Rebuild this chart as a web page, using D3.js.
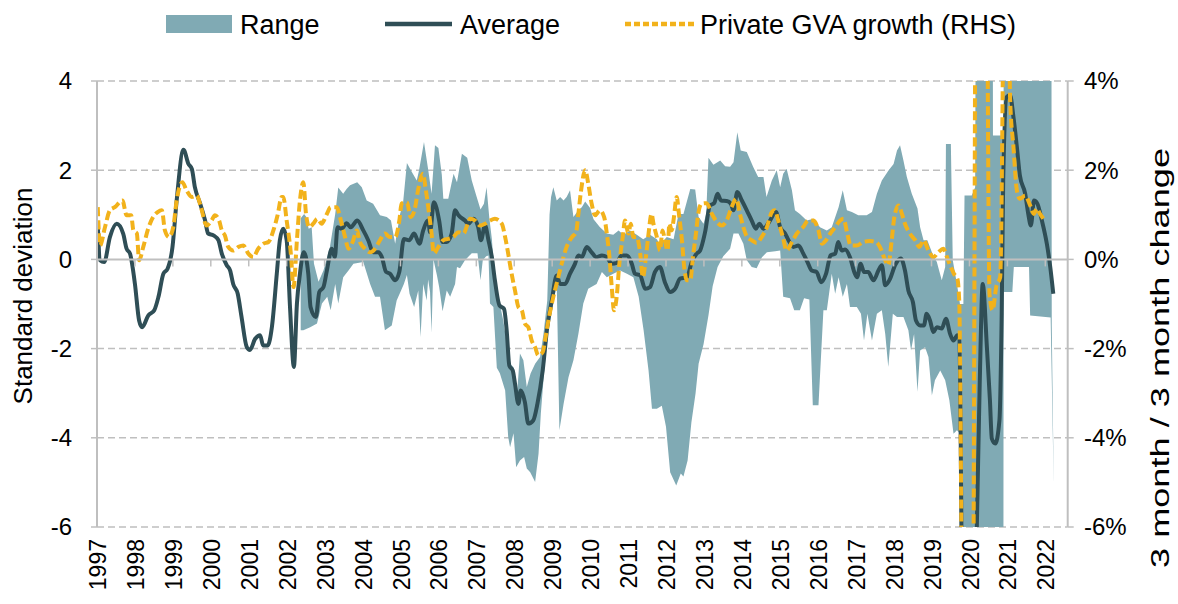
<!DOCTYPE html>
<html lang="en">
<head>
<meta charset="utf-8">
<script src="https://d3js.org/d3.v7.min.js"></script>
<style>
    body { margin: 0; background: #fff; }
    svg { display: block; font-family: "Liberation Sans", Arial, sans-serif; }
</style>
</head>
<body>
<div id="chart"></div>
<script>
    // data: [decimal year, value]
    const years = d3.range(1997, 2023);
    const leftTicks = [4, 2, 0, -2, -4, -6];
    const rightTicks = ["4%", "2%", "0%", "-2%", "-4%", "-6%"];

    const average = [
        [1997.02,0.80],[1997.08,-0.02],[1997.19,-0.06],[1997.34,0.50],[1997.52,0.80],[1997.69,0.58],
        [1997.78,0.24],[1997.87,0.13],[1998.00,-0.55],[1998.11,-1.37],[1998.19,-1.52],[1998.35,-1.26],
        [1998.51,-1.14],[1998.62,-0.84],[1998.75,-0.32],[1998.86,-0.21],[1998.99,0.28],[1999.10,1.32],
        [1999.28,2.46],[1999.41,2.14],[1999.50,2.03],[1999.58,1.62],[1999.72,1.25],[1999.85,0.87],
        [1999.93,0.58],[2000.07,0.54],[2000.20,0.43],[2000.29,0.13],[2000.42,-0.13],[2000.51,-0.25],
        [2000.59,-0.55],[2000.71,-0.77],[2000.81,-1.29],[2000.95,-1.97],[2001.03,-2.03],[2001.17,-1.78],
        [2001.30,-1.70],[2001.38,-1.93],[2001.50,-1.93],[2001.61,-1.52],[2001.74,-0.32],[2001.82,0.43],
        [2001.91,0.69],[2002.00,0.43],[2002.09,-1.10],[2002.19,-2.41],[2002.27,-1.00],[2002.35,-0.32],
        [2002.45,0.16],[2002.57,-0.32],[2002.63,-1.07],[2002.77,-1.29],[2002.86,-0.73],[2002.97,-0.62],
        [2003.06,-0.25],[2003.19,0.24],[2003.27,0.05],[2003.34,0.72],[2003.45,0.69],[2003.58,0.81],
        [2003.69,0.72],[2003.86,0.87],[2004.02,0.65],[2004.15,0.43],[2004.28,0.16],[2004.42,0.16],
        [2004.51,0.05],[2004.62,-0.28],[2004.72,-0.32],[2004.86,-0.47],[2004.97,-0.28],[2005.09,0.46],
        [2005.23,0.43],[2005.36,0.58],[2005.50,0.35],[2005.60,0.65],[2005.73,0.87],[2005.78,0.61],
        [2005.88,1.28],[2006.02,0.87],[2006.11,0.39],[2006.22,0.39],[2006.35,0.58],[2006.44,1.10],
        [2006.53,0.99],[2006.70,0.87],[2006.79,0.80],[2006.92,0.91],[2007.05,0.72],[2007.12,0.43],
        [2007.23,0.76],[2007.32,0.43],[2007.41,0.05],[2007.49,-0.47],[2007.61,-1.03],[2007.73,-1.11],
        [2007.80,-1.59],[2007.87,-2.38],[2007.96,-2.49],[2008.02,-2.79],[2008.11,-3.24],[2008.17,-2.94],
        [2008.28,-3.20],[2008.37,-3.68],[2008.50,-3.61],[2008.61,-3.24],[2008.75,-2.49],[2008.87,-1.52],
        [2008.99,-0.92],[2009.12,-0.36],[2009.21,-0.55],[2009.34,-0.55],[2009.47,-0.32],[2009.60,-0.10],
        [2009.69,0.09],[2009.78,0.05],[2009.91,0.28],[2010.04,0.16],[2010.17,0.05],[2010.31,0.09],
        [2010.44,0.05],[2010.57,-0.10],[2010.70,-0.08],[2010.83,0.09],[2010.97,0.09],[2011.10,-0.10],
        [2011.18,-0.32],[2011.32,-0.36],[2011.45,-0.66],[2011.58,-0.62],[2011.71,-0.28],[2011.84,-0.17],
        [2011.97,-0.51],[2012.11,-0.73],[2012.24,-0.66],[2012.37,-0.43],[2012.55,-0.40],[2012.68,-0.06],
        [2012.81,0.13],[2012.90,0.20],[2013.03,0.61],[2013.16,1.21],[2013.27,1.26],[2013.36,1.47],
        [2013.45,1.32],[2013.60,1.31],[2013.71,1.25],[2013.78,1.10],[2013.88,1.51],[2014.00,1.32],
        [2014.13,1.10],[2014.26,0.87],[2014.37,0.69],[2014.46,0.80],[2014.57,0.69],[2014.72,0.84],
        [2014.90,1.06],[2015.01,0.72],[2015.14,0.58],[2015.23,0.43],[2015.36,0.28],[2015.49,0.31],
        [2015.62,0.13],[2015.73,-0.06],[2015.84,-0.25],[2015.97,-0.28],[2016.09,-0.51],[2016.22,-0.32],
        [2016.34,0.09],[2016.46,0.13],[2016.54,0.39],[2016.63,0.20],[2016.72,0.22],[2016.85,0.05],
        [2016.98,-0.32],[2017.04,-0.40],[2017.13,-0.10],[2017.22,-0.28],[2017.33,-0.28],[2017.47,-0.47],
        [2017.60,-0.25],[2017.69,-0.13],[2017.78,-0.58],[2017.91,-0.43],[2018.04,-0.13],[2018.19,0.02],
        [2018.30,-0.25],[2018.39,-0.70],[2018.51,-0.96],[2018.59,-1.37],[2018.70,-1.48],[2018.80,-1.48],
        [2018.87,-1.22],[2018.96,-1.37],[2019.05,-1.63],[2019.14,-1.52],[2019.27,-1.55],[2019.38,-1.33],
        [2019.49,-1.67],[2019.58,-1.82],[2019.68,-1.70],[2019.73,-1.74],[2019.82,-9.0],[2019.91,-14.0],
        [2020.00,-14.0],[2020.10,-10.0],[2020.19,-6.2],[2020.27,-2.8],[2020.35,-0.55],[2020.46,-1.97],
        [2020.54,-3.16],[2020.59,-4.02],[2020.68,-4.13],[2020.79,-3.61],[2020.85,-1.22],[2020.89,1.77],
        [2020.98,3.64],[2021.07,3.68],[2021.16,3.19],[2021.25,2.52],[2021.33,1.88],[2021.47,1.47],
        [2021.55,1.02],[2021.62,0.76],[2021.70,1.32],[2021.79,1.25],[2021.91,0.87],[2022.04,0.35],
        [2022.13,-0.17],[2022.21,-0.77]
    ];

    const gvaGrowth = [
        [1997.02,1.17],[1997.08,0.31],[1997.21,0.72],[1997.34,1.10],[1997.47,1.17],[1997.67,1.32],
        [1997.78,0.99],[1997.90,0.99],[1997.96,0.65],[1998.05,0.58],[1998.11,-0.02],[1998.22,0.28],
        [1998.35,0.69],[1998.48,0.95],[1998.60,1.06],[1998.71,1.10],[1998.79,0.65],[1998.90,0.50],
        [1999.01,0.72],[1999.10,1.32],[1999.25,1.73],[1999.36,1.55],[1999.50,1.40],[1999.63,1.43],
        [1999.74,1.17],[1999.89,0.76],[2000.02,0.87],[2000.11,0.99],[2000.22,0.87],[2000.29,0.65],
        [2000.37,0.54],[2000.46,0.28],[2000.59,0.20],[2000.73,0.28],[2000.86,0.31],[2000.99,0.13],
        [2001.12,0.05],[2001.25,0.24],[2001.38,0.35],[2001.52,0.39],[2001.65,0.65],[2001.76,0.99],
        [2001.87,1.40],[2001.91,1.40],[2002.00,0.87],[2002.11,0.13],[2002.18,-0.62],[2002.27,0.43],
        [2002.35,1.32],[2002.44,1.73],[2002.51,1.02],[2002.60,0.72],[2002.70,0.80],[2002.81,0.91],
        [2002.92,0.80],[2003.06,1.02],[2003.16,1.17],[2003.32,1.17],[2003.43,0.87],[2003.54,0.50],
        [2003.63,0.24],[2003.74,0.39],[2003.85,0.65],[2003.93,0.39],[2004.07,0.24],[2004.20,0.16],
        [2004.33,0.24],[2004.46,0.43],[2004.59,0.58],[2004.72,0.50],[2004.86,0.50],[2004.97,0.87],
        [2005.03,1.25],[2005.17,1.28],[2005.27,0.95],[2005.38,1.14],[2005.47,1.58],[2005.59,1.92],
        [2005.67,1.55],[2005.76,0.99],[2005.82,0.58],[2005.88,0.13],[2006.00,0.28],[2006.13,0.43],
        [2006.26,0.46],[2006.39,0.50],[2006.53,0.61],[2006.66,0.58],[2006.79,0.84],[2006.83,0.91],
        [2006.97,0.87],[2007.10,0.76],[2007.23,0.80],[2007.36,0.87],[2007.49,0.91],[2007.67,0.80],
        [2007.76,0.50],[2007.84,0.13],[2007.93,-0.32],[2008.02,-0.70],[2008.11,-1.07],[2008.20,-1.14],
        [2008.28,-1.44],[2008.37,-1.52],[2008.46,-1.82],[2008.55,-1.97],[2008.63,-2.15],[2008.75,-2.08],
        [2008.81,-1.82],[2008.90,-1.37],[2009.03,-0.84],[2009.16,-0.40],[2009.25,-0.10],[2009.38,0.28],
        [2009.52,0.50],[2009.63,0.61],[2009.69,1.02],[2009.75,1.47],[2009.87,2.00],[2009.95,1.70],
        [2010.04,1.25],[2010.13,0.99],[2010.26,1.10],[2010.37,0.95],[2010.44,0.58],[2010.51,0.05],
        [2010.57,-0.62],[2010.63,-1.14],[2010.70,-0.84],[2010.77,-0.10],[2010.86,0.50],[2010.92,0.87],
        [2011.01,0.58],[2011.07,0.80],[2011.14,0.50],[2011.23,0.50],[2011.32,0.13],[2011.39,-0.40],
        [2011.47,0.05],[2011.53,0.50],[2011.62,1.02],[2011.67,0.80],[2011.76,0.50],[2011.84,0.20],
        [2011.91,0.65],[2011.97,0.43],[2012.04,0.20],[2012.09,0.80],[2012.15,0.65],[2012.21,0.95],
        [2012.28,1.40],[2012.35,0.95],[2012.42,0.43],[2012.48,-0.17],[2012.55,-0.47],[2012.64,-0.47],
        [2012.71,0.05],[2012.79,0.58],[2012.85,1.02],[2012.94,1.25],[2013.07,1.26],[2013.21,1.02],
        [2013.34,0.84],[2013.47,0.76],[2013.60,0.87],[2013.73,1.17],[2013.85,1.36],[2013.95,1.02],
        [2014.04,0.72],[2014.14,0.50],[2014.26,0.43],[2014.39,0.37],[2014.52,0.50],[2014.66,0.72],
        [2014.79,1.06],[2014.87,1.10],[2014.96,0.87],[2015.08,0.50],[2015.18,0.20],[2015.32,0.39],
        [2015.45,0.58],[2015.61,0.72],[2015.75,0.87],[2015.89,0.87],[2016.02,0.65],[2016.11,0.35],
        [2016.22,0.43],[2016.33,0.58],[2016.46,0.72],[2016.59,0.87],[2016.68,0.91],[2016.78,0.58],
        [2016.87,0.31],[2017.03,0.31],[2017.20,0.39],[2017.38,0.41],[2017.54,0.39],[2017.64,0.28],
        [2017.78,-0.02],[2017.86,-0.13],[2017.95,0.43],[2018.02,0.95],[2018.13,1.21],[2018.22,1.02],
        [2018.30,0.80],[2018.43,0.58],[2018.57,0.43],[2018.68,0.28],[2018.79,0.43],[2018.92,0.20],
        [2019.05,0.05],[2019.18,0.16],[2019.31,0.24],[2019.42,0.02],[2019.51,-0.17],[2019.59,-0.32],
        [2019.68,-0.43],[2019.73,-0.92],[2019.82,-10.0],[2019.91,-18.0],[2020.00,-18.0],[2020.10,-8.0],
        [2020.19,14.0],[2020.28,20.0],[2020.37,20.0],[2020.45,9.0],[2020.53,-0.80],[2020.61,-1.14],
        [2020.71,-0.60],[2020.81,-0.40],[2020.90,6.0],[2020.99,14.0],[2021.07,3.64],[2021.16,2.52],
        [2021.25,1.55],[2021.33,1.36],[2021.47,1.43],[2021.60,1.21],[2021.70,1.02],[2021.77,1.14],
        [2021.86,1.02],[2021.95,0.91]
    ];

    const rangeHigh = [
        [2002.37,0.92],[2002.46,1.02],[2002.52,0.95],[2002.58,0.69],[2002.66,0.72],[2002.72,-0.10],
        [2002.84,-0.50],[2002.97,-0.25],[2003.14,0.28],[2003.28,1.02],[2003.36,1.61],[2003.49,1.47],
        [2003.58,1.58],[2003.67,1.66],[2003.86,1.73],[2003.98,1.62],[2004.11,1.32],[2004.28,1.25],
        [2004.46,0.99],[2004.64,0.95],[2004.75,0.87],[2004.86,0.35],[2004.99,1.02],[2005.07,1.28],
        [2005.17,2.16],[2005.30,1.96],[2005.43,1.77],[2005.49,2.00],[2005.62,2.63],[2005.74,1.96],
        [2005.82,1.47],[2005.91,2.56],[2006.00,2.50],[2006.09,1.90],[2006.13,1.36],[2006.26,1.36],
        [2006.40,1.92],[2006.49,1.73],[2006.62,2.37],[2006.76,2.28],[2006.88,1.77],[2007.01,1.40],
        [2007.11,1.12],[2007.20,1.25],[2007.27,1.62],[2007.34,0.95],[2007.41,0.45],[2007.49,-0.47],
        [2007.54,-0.92],[2007.62,-1.00],[2007.71,-1.37],[2007.89,-2.34],[2007.98,-2.42],[2008.08,-2.94],
        [2008.15,-2.11],[2008.24,-2.26],[2008.33,-2.86],[2008.43,-2.56],[2008.55,-2.34],[2008.68,-2.19],
        [2008.77,-1.67],[2008.87,-0.92],[2008.93,1.00],[2008.97,1.40],[2009.03,1.62],[2009.12,1.32],
        [2009.21,1.40],[2009.30,1.32],[2009.38,1.40],[2009.47,1.55],[2009.56,0.95],[2009.69,1.10],
        [2009.78,1.17],[2009.87,1.30],[2010.00,1.15],[2010.09,0.90],[2010.26,0.72],[2010.44,0.58],
        [2010.61,0.55],[2010.75,0.65],[2010.88,0.55],[2011.05,0.65],[2011.23,0.55],[2011.40,0.45],
        [2011.58,0.55],[2011.76,0.45],[2011.84,0.33],[2012.02,0.50],[2012.20,0.45],[2012.33,1.02],
        [2012.46,1.02],[2012.64,1.58],[2012.77,1.57],[2012.86,0.95],[2012.99,0.80],[2013.06,1.02],
        [2013.12,2.28],[2013.25,2.12],[2013.43,2.22],[2013.56,2.09],[2013.69,2.08],[2013.78,2.18],
        [2013.88,2.85],[2013.97,2.44],[2014.13,2.41],[2014.30,2.07],[2014.43,1.85],[2014.57,1.85],
        [2014.65,1.40],[2014.79,1.77],[2014.92,2.00],[2015.01,1.62],[2015.09,1.92],[2015.18,2.03],
        [2015.32,1.55],[2015.40,1.10],[2015.53,1.02],[2015.71,0.87],[2015.89,0.91],[2016.06,0.72],
        [2016.24,0.65],[2016.37,0.72],[2016.55,1.17],[2016.66,1.55],[2016.77,1.10],[2016.90,1.06],
        [2017.07,0.99],[2017.29,0.99],[2017.43,1.06],[2017.56,1.47],[2017.69,1.77],[2017.87,2.00],
        [2018.00,2.14],[2018.09,2.44],[2018.17,2.56],[2018.26,2.22],[2018.35,1.85],[2018.48,1.47],
        [2018.63,1.14],[2018.70,0.72],[2018.79,0.43],[2018.89,0.43],[2019.01,0.16],[2019.14,-0.06],
        [2019.27,-0.47],[2019.36,-0.17],[2019.38,2.59],[2019.51,2.59],[2019.56,-0.02],[2019.67,-0.55],
        [2019.75,-1.00],[2019.84,-1.00],[2019.87,1.43],[2020.06,1.43],[2020.15,1.62],[2020.20,15.0],
        [2020.60,15.0],[2020.62,2.78],[2020.90,2.78],[2020.91,15.0],[2022.15,15.0],[2022.17,-1.50],
        [2022.22,-4.90]
    ];

    const rangeLow = [
        [2002.37,-1.59],[2002.44,-1.59],[2002.62,-1.52],[2002.80,-1.44],[2002.93,-0.99],[2003.07,-0.84],
        [2003.16,-1.14],[2003.28,-0.55],[2003.36,-0.99],[2003.49,-0.40],[2003.63,-0.25],[2003.76,-0.10],
        [2004.02,-0.06],[2004.20,-0.55],[2004.33,-0.84],[2004.46,-0.84],[2004.59,-1.59],[2004.77,-1.48],
        [2004.90,-0.92],[2004.99,-0.75],[2005.09,-0.55],[2005.17,-0.35],[2005.24,-0.77],[2005.36,-1.07],
        [2005.47,-0.70],[2005.53,-1.74],[2005.60,-0.55],[2005.69,-0.92],[2005.73,-0.45],[2005.78,-0.73],
        [2005.82,-1.65],[2005.87,0.00],[2005.96,-0.35],[2006.02,-0.62],[2006.11,-1.16],[2006.22,-0.70],
        [2006.31,-0.84],[2006.44,-0.55],[2006.49,-0.17],[2006.57,-0.20],[2006.70,-0.02],[2006.88,0.14],
        [2007.03,0.14],[2007.11,-0.47],[2007.17,-0.02],[2007.26,0.07],[2007.32,0.09],[2007.36,-0.99],
        [2007.45,-1.07],[2007.54,-2.43],[2007.62,-2.55],[2007.76,-2.94],[2007.84,-3.98],[2007.89,-4.21],
        [2007.98,-3.90],[2008.05,-4.66],[2008.15,-4.51],[2008.26,-4.43],[2008.33,-4.69],[2008.42,-4.77],
        [2008.55,-4.99],[2008.64,-4.36],[2008.70,-3.46],[2008.79,-2.49],[2008.90,-1.59],[2009.03,-0.99],
        [2009.12,-0.55],[2009.19,-3.83],[2009.30,-3.24],[2009.43,-2.64],[2009.56,-2.26],[2009.69,-1.67],
        [2009.82,-0.99],[2009.95,-0.66],[2010.17,-0.55],[2010.31,-0.28],[2010.44,-0.40],[2010.61,-0.32],
        [2010.79,-0.25],[2010.97,-0.32],[2011.14,-0.40],[2011.28,-0.84],[2011.41,-1.59],[2011.54,-2.49],
        [2011.63,-3.35],[2011.76,-3.35],[2011.89,-3.28],[2012.00,-3.75],[2012.11,-4.77],[2012.27,-5.07],
        [2012.39,-4.80],[2012.46,-4.87],[2012.57,-4.51],[2012.67,-3.65],[2012.78,-3.00],[2012.86,-2.34],
        [2012.99,-1.90],[2013.12,-1.25],[2013.23,-0.60],[2013.36,-0.17],[2013.51,0.07],[2013.69,0.24],
        [2013.78,0.58],[2013.91,0.58],[2014.04,0.35],[2014.13,-0.02],[2014.26,-0.17],[2014.39,-0.20],
        [2014.53,0.05],[2014.66,0.16],[2014.88,0.18],[2015.01,0.20],[2015.09,-0.84],[2015.27,-0.87],
        [2015.38,-1.14],[2015.53,-1.14],[2015.64,-0.87],[2015.78,-0.90],[2015.87,-3.27],[2016.02,-3.27],
        [2016.15,-1.14],[2016.24,-1.14],[2016.37,-0.32],[2016.46,-0.77],[2016.55,-0.40],[2016.66,-0.84],
        [2016.77,-0.55],[2016.85,-1.07],[2017.03,-1.07],[2017.14,-1.22],[2017.22,-1.82],[2017.31,-1.22],
        [2017.43,-1.82],[2017.56,-1.22],[2017.69,-1.14],[2017.78,-1.67],[2017.86,-2.41],[2017.98,-1.22],
        [2018.09,-1.29],[2018.26,-1.29],[2018.39,-1.59],[2018.46,-2.04],[2018.54,-1.67],[2018.63,-2.97],
        [2018.70,-2.04],[2018.83,-1.97],[2018.92,-2.19],[2019.01,-3.05],[2019.09,-2.71],[2019.23,-2.49],
        [2019.36,-2.71],[2019.47,-3.16],[2019.58,-3.91],[2019.67,-3.83],[2019.74,-3.90],[2019.77,-15.0],
        [2020.89,-15.0],[2020.90,-0.73],[2021.13,-0.73],[2021.17,-0.17],[2021.57,-0.17],[2021.60,-1.26],
        [2022.14,-1.30],[2022.22,-5.00]
    ];

    const width = 1178, height = 604;
    const plot = { left: 97, right: 1067.7, top: 81, bottom: 527 };
    const grey = "#BFBFBF";
    const teal = "#80AAB4";
    const dark = "#2F4E56";
    const gold = "#F2B21B";

    const svg = d3.select("#chart").append("svg")
        .attr("width", width)
        .attr("height", height);

    const x = d3.scaleLinear().domain([1997, 2022.59]).range([plot.left, plot.right]);
    const y = d3.scaleLinear().domain([-6, 4]).range([plot.bottom, plot.top]);

    svg.append("clipPath").attr("id", "clip")
        .append("rect")
        .attr("x", plot.left).attr("y", plot.top)
        .attr("width", plot.right - plot.left).attr("height", plot.bottom - plot.top);

    // grid lines
    svg.append("g")
        .selectAll("line")
        .data(leftTicks.filter(d => d !== 0))
        .join("line")
        .attr("x1", plot.left).attr("x2", plot.right)
        .attr("y1", d => y(d)).attr("y2", d => y(d))
        .attr("stroke", grey).attr("stroke-width", 1.5)
        .attr("stroke-dasharray", "7,4");

    const body = svg.append("g").attr("clip-path", "url(#clip)");

    // range band
    const bandPoly = rangeHigh.concat(rangeLow.slice().reverse());
    body.append("path")
        .attr("d", d3.line().x(d => x(d[0])).y(d => y(d[1]))(bandPoly) + "Z")
        .attr("fill", teal);

    // zero line and year ticks
    svg.append("line")
        .attr("x1", plot.left).attr("x2", plot.right)
        .attr("y1", y(0)).attr("y2", y(0))
        .attr("stroke", grey).attr("stroke-width", 2);
    svg.append("g")
        .selectAll("line")
        .data(years)
        .join("line")
        .attr("x1", d => x(d)).attr("x2", d => x(d))
        .attr("y1", y(0)).attr("y2", y(0) + 7)
        .attr("stroke", grey).attr("stroke-width", 1.5);

    // lines
    body.append("path")
        .datum(average)
        .attr("d", d3.line().x(d => x(d[0])).y(d => y(d[1])).curve(d3.curveMonotoneX))
        .attr("fill", "none")
        .attr("stroke", dark)
        .attr("stroke-width", 4)
        .attr("stroke-linejoin", "round");

    body.append("path")
        .datum(gvaGrowth)
        .attr("d", d3.line().x(d => x(d[0])).y(d => y(d[1])).curve(d3.curveMonotoneX))
        .attr("fill", "none")
        .attr("stroke", gold)
        .attr("stroke-width", 4)
        .attr("stroke-dasharray", "9,4");

    // axes
    svg.append("line")
        .attr("x1", plot.left).attr("x2", plot.left)
        .attr("y1", plot.top).attr("y2", plot.bottom)
        .attr("stroke", grey).attr("stroke-width", 2);
    svg.append("line")
        .attr("x1", plot.right).attr("x2", plot.right)
        .attr("y1", plot.top).attr("y2", plot.bottom)
        .attr("stroke", grey).attr("stroke-width", 2);

    svg.append("g")
        .selectAll("line")
        .data(leftTicks)
        .join("line")
        .attr("x1", plot.left - 6).attr("x2", plot.left)
        .attr("y1", d => y(d)).attr("y2", d => y(d))
        .attr("stroke", grey).attr("stroke-width", 1.5);
    svg.append("g")
        .selectAll("line")
        .data(leftTicks)
        .join("line")
        .attr("x1", plot.right).attr("x2", plot.right + 6)
        .attr("y1", d => y(d)).attr("y2", d => y(d))
        .attr("stroke", grey).attr("stroke-width", 1.5);

    svg.append("g")
        .selectAll("text")
        .data(leftTicks)
        .join("text")
        .attr("x", 72).attr("y", d => y(d))
        .attr("dy", "0.35em")
        .attr("text-anchor", "end")
        .attr("font-size", 24)
        .text(d => d);

    svg.append("g")
        .selectAll("text")
        .data(rightTicks)
        .join("text")
        .attr("x", 1084).attr("y", (d, i) => y(leftTicks[i]))
        .attr("dy", "0.35em")
        .attr("font-size", 24)
        .text(d => d);

    svg.append("g")
        .selectAll("text")
        .data(years)
        .join("text")
        .attr("transform", d => `translate(${x(d) + 1},539) rotate(-90)`)
        .attr("dy", "0.35em")
        .attr("text-anchor", "end")
        .attr("font-size", 23)
        .text(d => d);

    svg.append("text")
        .attr("transform", "translate(23,296) rotate(-90)")
        .attr("dy", "0.35em")
        .attr("text-anchor", "middle")
        .attr("font-size", 26)
        .text("Standard deviation");

    svg.append("text")
        .attr("transform", "translate(1160,358) rotate(-90)")
        .attr("dy", "0.35em")
        .attr("text-anchor", "middle")
        .attr("font-size", 26)
        .attr("textLength", 420)
        .attr("lengthAdjust", "spacingAndGlyphs")
        .text("3 month / 3 month change");

    // legend
    const legend = svg.append("g");
    legend.append("rect")
        .attr("x", 166).attr("y", 15).attr("width", 66).attr("height", 18)
        .attr("fill", teal);
    legend.append("text")
        .attr("x", 240).attr("y", 25).attr("dy", "0.35em")
        .attr("font-size", 27).text("Range");
    legend.append("line")
        .attr("x1", 385).attr("x2", 452).attr("y1", 24).attr("y2", 24)
        .attr("stroke", dark).attr("stroke-width", 4.5);
    legend.append("text")
        .attr("x", 460).attr("y", 25).attr("dy", "0.35em")
        .attr("font-size", 27).text("Average");
    legend.append("line")
        .attr("x1", 625).attr("x2", 694).attr("y1", 24).attr("y2", 24)
        .attr("stroke", gold).attr("stroke-width", 4.5)
        .attr("stroke-dasharray", "6,3");
    legend.append("text")
        .attr("x", 700).attr("y", 25).attr("dy", "0.35em")
        .attr("font-size", 27).text("Private GVA growth (RHS)");
</script>
</body>
</html>
